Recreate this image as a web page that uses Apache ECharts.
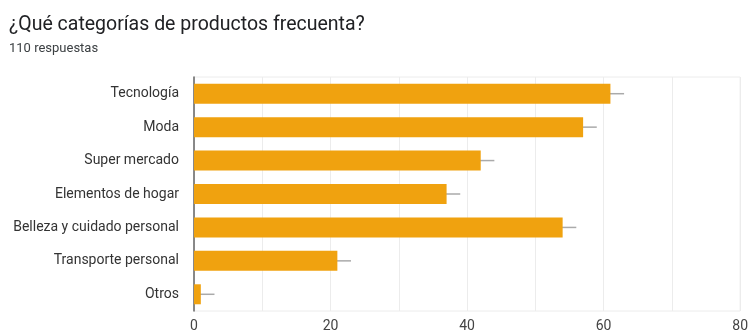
<!DOCTYPE html>
<html>
<head>
<meta charset="utf-8">
<script src="https://cdn.jsdelivr.net/npm/echarts@6/dist/echarts.min.js"></script>
<style>
  html, body { margin: 0; padding: 0; background: #fff; }
  #chart { width: 751px; height: 333px; }
</style>
</head>
<body>
<div id="chart"></div>
<script>
// datos
var categorias = ['Tecnología', 'Moda', 'Super mercado', 'Elementos de hogar',
                  'Belleza y cuidado personal', 'Transporte personal', 'Otros'];
var respuestas = [61, 57, 42, 37, 54, 21, 1];
var errores = [2, 2, 2, 2, 2, 2, 2];
var ticks = [0, 20, 40, 60, 80];

var chart = echarts.init(document.getElementById('chart'));

// barras de error: [bajo, alto, indice]
var datosError = respuestas.map(function (v, i) {
    return [v - errores[i], v + errores[i], i];
});

var option = {
    animation: false,
    title: {
        text: '¿Qué categorías de productos frecuenta?',
        subtext: '110 respuestas',
        left: 4,
        top: 10,
        itemGap: 7,
        textStyle: { fontFamily: 'Roboto', fontSize: 19.5, fontWeight: 'normal', color: '#202124' },
        subtextStyle: { fontFamily: 'Roboto', fontSize: 13, color: '#3c4043' }
    },
    grid: {
        left: 194, right: 9, top: 77, bottom: 20,
        show: true, borderColor: '#ececec', borderWidth: 1
    },
    xAxis: {
        type: 'value',
        min: 0,
        max: 80,
        interval: 10,
        axisLine: { show: false },
        axisTick: { show: false },
        splitLine: { lineStyle: { color: '#ececec', width: 1 } },
        axisLabel: {
            fontFamily: 'Roboto',
            fontSize: 14,
            color: '#444',
            margin: 8,
            formatter: function (v) { return ticks.indexOf(v) >= 0 ? String(v) : ''; }
        }
    },
    yAxis: {
        type: 'category',
        inverse: true,
        data: categorias,
        axisLine: { lineStyle: { color: '#666', width: 1.5 } },
        axisTick: { show: false },
        axisLabel: { fontFamily: 'Roboto', fontSize: 14, color: '#333', margin: 15 }
    },
    series: [
        {
            type: 'custom',
            z: 2,
            clip: true,
            encode: { x: [0, 1], y: 2 },
            data: datosError,
            renderItem: function (params, api) {
                var p1 = api.coord([Math.max(0, api.value(0)), api.value(2)]);
                var p2 = api.coord([api.value(1), api.value(2)]);
                return {
                    type: 'line',
                    shape: { x1: p1[0], y1: p1[1], x2: p2[0], y2: p2[1] },
                    style: { stroke: '#aaaaaa', lineWidth: 1.5 }
                };
            }
        },
        {
            type: 'bar',
            z: 3,
            data: respuestas,
            barWidth: 20,
            itemStyle: { color: '#f0a20f' }
        }
    ]
};

chart.setOption(option);
</script>
</body>
</html>
